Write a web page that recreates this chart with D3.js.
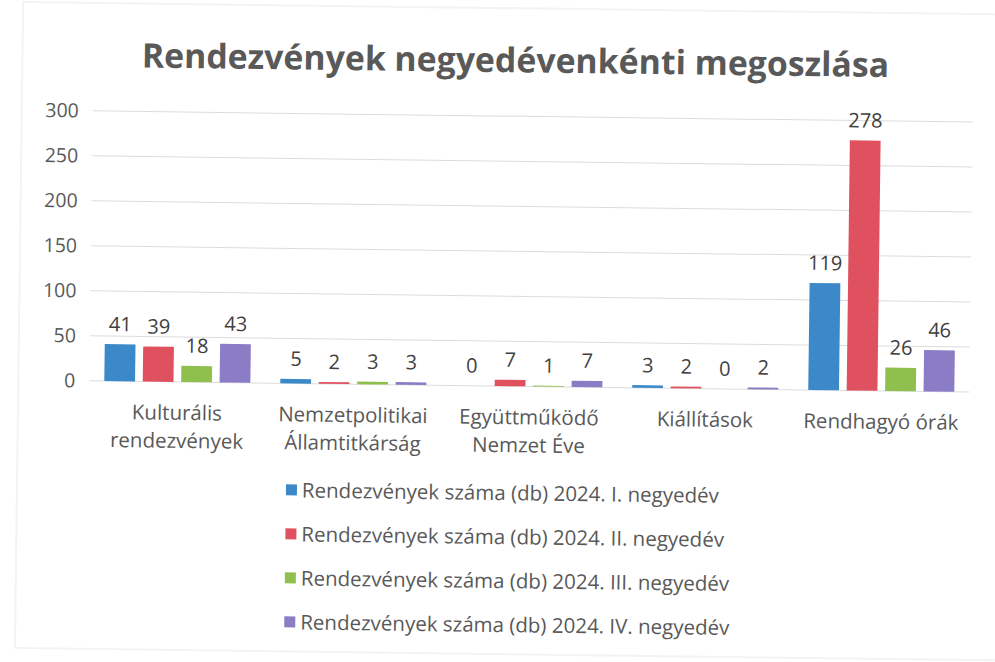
<!DOCTYPE html>
<html><head><meta charset="utf-8">
<script src="https://cdn.jsdelivr.net/npm/d3@7"></script>
<style>
body{margin:0;background:#fff;}
svg{display:block;}
text{font-family:"Open Sans",sans-serif;}
</style></head>
<body>
<svg id="chart" width="995" height="662"></svg>
<script>
const title = "Rendezvények negyedévenkénti megoszlása";
const categories = [["Kulturális","rendezvények"],["Nemzetpolitikai","Államtitkárság"],["Együttműködő","Nemzet Éve"],["Kiállítások"],["Rendhagyó órák"]];
const seriesNames = ["Rendezvények száma (db) 2024. I. negyedév","Rendezvények száma (db) 2024. II. negyedév","Rendezvények száma (db) 2024. III. negyedév","Rendezvények száma (db) 2024. IV. negyedév"];
const q1 = [41,5,0,3,119];
const q2 = [39,2,7,2,278];
const q3 = [18,3,1,0,26];
const q4 = [43,3,7,2,46];
const yTicks = [0,50,100,150,200,250,300];
const colors = ["#3b89c9","#e0515f","#8fbf4c","#8b7cc6"];

(function(){
const series = [q1,q2,q3,q4];
const svg = d3.select("#chart");
const root = svg.append("g").attr("transform","rotate(0.73,497,331)");

// faint frame
root.append("rect").attr("x",19).attr("y",8).attr("width",1000).attr("height",646)
  .attr("fill","none").attr("stroke","#f3f3f3").attr("stroke-width",2);

const mLeft = 90, mRight = 970, mTop = 116, mBottom = 386;
const x0 = d3.scaleBand().domain(d3.range(categories.length)).range([mLeft,mRight]).paddingInner(0.17).paddingOuter(0.085);
const x1 = d3.scaleBand().domain(d3.range(series.length)).range([0,x0.bandwidth()]).paddingInner(0.2);
const y = d3.scaleLinear().domain([0,300]).range([mBottom,mTop]);

root.append("text").attr("x",512).attr("y",72).attr("text-anchor","middle")
  .attr("font-size",33.8).attr("font-weight","bold").attr("fill","#595959").text(title);

root.append("g").selectAll("line").data(yTicks).join("line")
  .attr("x1",mLeft).attr("x2",mRight).attr("y1",d=>y(d)).attr("y2",d=>y(d))
  .attr("stroke","#dcdcdc").attr("stroke-width",1);

const yAxis = d3.axisLeft(y).tickValues(yTicks).tickSize(0).tickPadding(14);
const ya = root.append("g").attr("transform",`translate(${mLeft},0)`).call(yAxis);
ya.select(".domain").remove();
ya.selectAll("text").attr("font-size",19.5).attr("fill","#595959").attr("font-family","'Open Sans',sans-serif");

const groups = root.append("g").selectAll("g").data(categories).join("g")
  .attr("transform",(d,i)=>`translate(${x0(i)},0)`);
series.forEach((s,si)=>{
  groups.append("rect")
    .attr("x",x1(si)).attr("width",x1.bandwidth())
    .attr("y",(d,i)=>y(s[i])).attr("height",(d,i)=>y(0)-y(s[i]))
    .attr("fill",colors[si]);
  groups.append("text")
    .attr("x",x1(si)+x1.bandwidth()/2).attr("y",(d,i)=>y(s[i])-13)
    .attr("text-anchor","middle").attr("font-size",20).attr("fill","#404040")
    .text((d,i)=>s[i]);
});

groups.each(function(d,i){
  const t = d3.select(this).append("text").attr("text-anchor","middle")
    .attr("font-size",20.5).attr("fill","#595959");
  d.forEach((line,li)=>{
    t.append("tspan").attr("x",x0.bandwidth()/2).attr("y",mBottom+38+li*28).text(line);
  });
});

const lg = root.append("g").selectAll("g").data(seriesNames).join("g")
  .attr("transform",(d,i)=>`translate(288,${500+i*44})`);
lg.append("rect").attr("x",0).attr("y",-13).attr("width",11).attr("height",11).attr("fill",(d,i)=>colors[i]);
lg.append("text").attr("x",16).attr("y",0).attr("font-size",20.5).attr("fill","#595959").text(d=>d);
})();
</script>
</body></html>
